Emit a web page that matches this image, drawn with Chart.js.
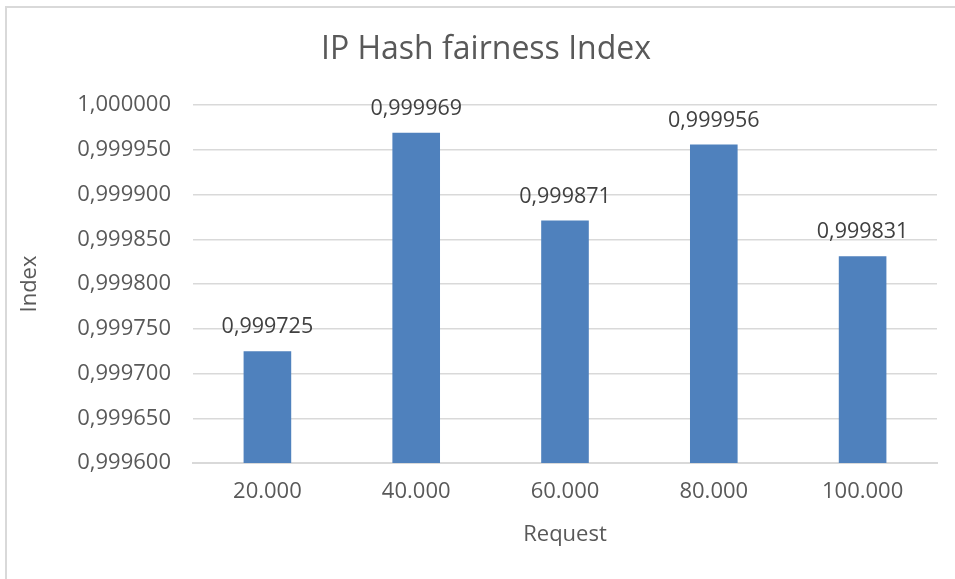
<!DOCTYPE html>
<html>
<head>
<meta charset="utf-8">
<script src="https://cdn.jsdelivr.net/npm/chart.js@4"></script>
<style>
  html, body { margin: 0; padding: 0; background: #fff; }
  #wrap { width: 955px; height: 579px; }
</style>
</head>
<body>
<div id="wrap"><canvas id="myChart" width="955" height="579"></canvas></div>
<script>
// data
var requests = ['20.000', '40.000', '60.000', '80.000', '100.000'];
var fairness = [0.999725, 0.999969, 0.999871, 0.999956, 0.999831];
var yMin = 0.9996;
var yMax = 1.0;
var yStep = 0.00005;
var chartTitle = 'IP Hash fairness Index';

var textColor = '#595959';
var gridColor = '#d9d9d9';
var font = "'Open Sans', sans-serif";

function fmt(v){
	return Number(v).toFixed(6).replace('.', ',');
}

// light frame + title (excel centres it on the whole frame, which runs off the right edge)
var framePlugin = {
	id: 'frame',
	beforeDraw: function(chart){
		var ctx = chart.ctx;
		ctx.save();
		ctx.strokeStyle = gridColor;
		ctx.lineWidth = 2;
		ctx.strokeRect(6, 7, 1000, 1000);
		ctx.fillStyle = textColor;
		ctx.font = "32px " + font;
		ctx.textAlign = 'center';
		ctx.textBaseline = 'middle';
		ctx.fillText(chartTitle, 486, 50);
		ctx.restore();
	}
};

// value labels above the bars
var valueLabels = {
	id: 'valueLabels',
	afterDatasetsDraw: function(chart){
		var ctx = chart.ctx;
		var meta = chart.getDatasetMeta(0);
		ctx.save();
		ctx.fillStyle = '#404040';
		ctx.font = "21.5px " + font;
		ctx.textAlign = 'center';
		ctx.textBaseline = 'middle';
		meta.data.forEach(function(bar, i){
			ctx.fillText(fmt(chart.data.datasets[0].data[i]), bar.x, bar.y - 24);
		});
		ctx.restore();
	}
};

new Chart('myChart', {
	type: 'bar',
	data: {
		labels: requests,
		datasets: [{
			label: 'Index',
			backgroundColor: '#4f81bd',
			data: fairness,
			categoryPercentage: 1,
			barPercentage: 0.32
		}]
	},
	options: {
		responsive: false,
		animation: false,
		layout: { padding: { left: 8, right: 18, top: 105, bottom: 0 } },
		plugins: {
			legend: { display: false },
			tooltip: { enabled: false },
			title: { display: false }
		},
		scales: {
			x: {
				grid: { display: false, drawTicks: false },
				border: { color: gridColor, width: 2 },
				ticks: { color: textColor, font: { family: font, size: 22 }, padding: 16 },
				title: {
					display: true, text: 'Request', color: textColor,
					font: { family: font, size: 22 },
					padding: { top: 0, bottom: 31 }
				},
				afterFit: function(scale){ scale.height = 116; }
			},
			y: {
				min: yMin,
				max: yMax,
				grid: { color: gridColor, lineWidth: 1.5, drawTicks: false },
				border: { display: false },
				ticks: {
					stepSize: yStep,
					color: textColor,
					font: { family: font, size: 22 },
					padding: 22,
					callback: function(v){ return fmt(v); }
				},
				title: {
					display: true, text: 'Index', color: textColor,
					font: { family: font, size: 22 },
					padding: { top: 9, bottom: 0 }
				},
				afterFit: function(scale){ scale.width = 185; }
			}
		}
	},
	plugins: [framePlugin, valueLabels]
});
</script>
</body>
</html>
